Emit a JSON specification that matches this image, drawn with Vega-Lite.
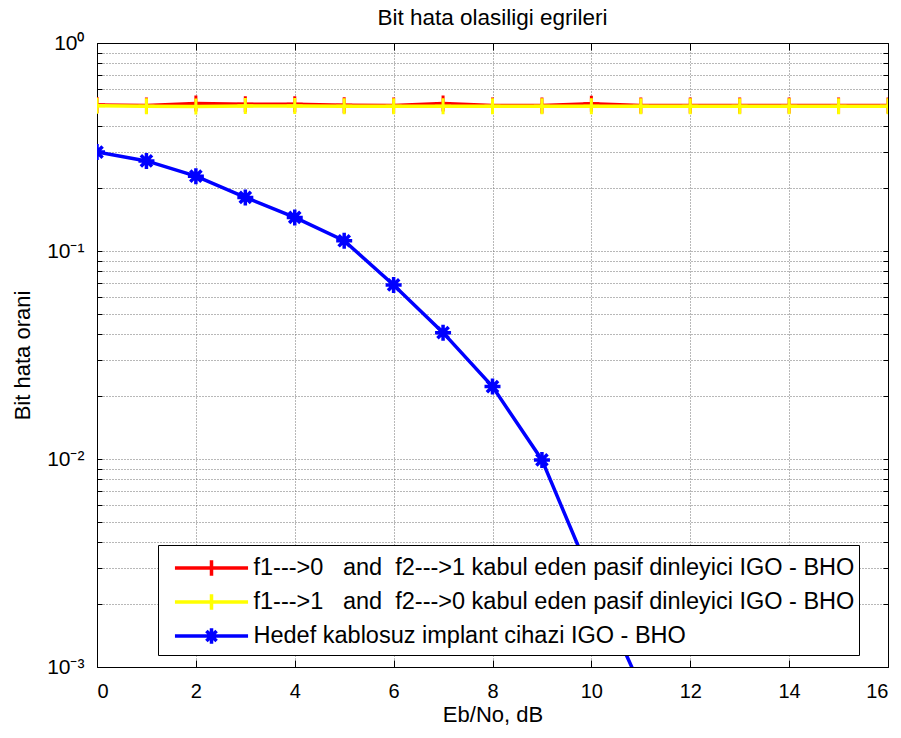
{
  "$schema": "https://vega.github.io/schema/vega-lite/v6.json",
  "width": 791,
  "height": 624,
  "autosize": {"type": "none"},
  "padding": {"left": 97, "top": 43, "right": 13, "bottom": 71},
  "background": "white",
  "config": {
    "view": {"stroke": null},
    "font": "Liberation Sans, Arial, sans-serif",
    "axis": {
      "labelFont": "Liberation Sans, Arial, sans-serif",
      "titleFont": "Liberation Sans, Arial, sans-serif",
      "labelColor": "black",
      "titleColor": "black",
      "domainColor": "black",
      "domainWidth": 1,
      "tickColor": "black",
      "titleFontWeight": "normal",
      "gridColor": "#707070",
      "gridDash": [1, 2],
      "gridWidth": 1,
      "gridOpacity": 1,
      "labelOverlap": false
    }
  },
  "title": {
    "text": "Bit hata olasiligi egrileri",
    "fontSize": 22.5,
    "fontWeight": "normal",
    "font": "Liberation Sans, Arial, sans-serif",
    "color": "black",
    "offset": 3
  },
  "datasets": {
    "ber": [
      {"x": 0, "y": 0.503, "s": "A"}, {"x": 1, "y": 0.5, "s": "A"}, {"x": 2, "y": 0.512, "s": "A"}, {"x": 3, "y": 0.508, "s": "A"},
      {"x": 4, "y": 0.508, "s": "A"}, {"x": 5, "y": 0.502, "s": "A"}, {"x": 6, "y": 0.5, "s": "A"}, {"x": 7, "y": 0.512, "s": "A"},
      {"x": 8, "y": 0.5, "s": "A"}, {"x": 9, "y": 0.501, "s": "A"}, {"x": 10, "y": 0.511, "s": "A"}, {"x": 11, "y": 0.5, "s": "A"},
      {"x": 12, "y": 0.5, "s": "A"}, {"x": 13, "y": 0.501, "s": "A"}, {"x": 14, "y": 0.5, "s": "A"}, {"x": 15, "y": 0.5, "s": "A"},
      {"x": 16, "y": 0.5, "s": "A"},
      {"x": 0, "y": 0.499, "s": "B"}, {"x": 1, "y": 0.497, "s": "B"}, {"x": 2, "y": 0.495, "s": "B"}, {"x": 3, "y": 0.498, "s": "B"},
      {"x": 4, "y": 0.498, "s": "B"}, {"x": 5, "y": 0.497, "s": "B"}, {"x": 6, "y": 0.497, "s": "B"}, {"x": 7, "y": 0.497, "s": "B"},
      {"x": 8, "y": 0.497, "s": "B"}, {"x": 9, "y": 0.497, "s": "B"}, {"x": 10, "y": 0.497, "s": "B"}, {"x": 11, "y": 0.497, "s": "B"},
      {"x": 12, "y": 0.497, "s": "B"}, {"x": 13, "y": 0.497, "s": "B"}, {"x": 14, "y": 0.497, "s": "B"}, {"x": 15, "y": 0.497, "s": "B"},
      {"x": 16, "y": 0.497, "s": "B"},
      {"x": 0, "y": 0.299, "s": "C"}, {"x": 1, "y": 0.271, "s": "C"}, {"x": 2, "y": 0.229, "s": "C"}, {"x": 3, "y": 0.181, "s": "C"},
      {"x": 4, "y": 0.145, "s": "C"}, {"x": 5, "y": 0.112, "s": "C"}, {"x": 6, "y": 0.0687, "s": "C"}, {"x": 7, "y": 0.0405, "s": "C"},
      {"x": 8, "y": 0.0223, "s": "C"}, {"x": 9, "y": 0.0099, "s": "C"}, {"x": 10, "y": 0.0027, "s": "C"}, {"x": 11, "y": 0.0008, "s": "C"}
    ],
    "names": [
      {"s": "A", "series": "f1--->0\u00a0\u00a0 and\u00a0 f2--->1 kabul eden pasif dinleyici IGO - BHO"},
      {"s": "B", "series": "f1--->1\u00a0\u00a0 and\u00a0 f2--->0 kabul eden pasif dinleyici IGO - BHO"},
      {"s": "C", "series": "Hedef kablosuz implant cihazi IGO - BHO"}
    ]
  },
  "layer": [
    {
      "data": {"name": "ber"},
      "transform": [
        {"lookup": "s", "from": {"data": {"name": "names"}, "key": "s", "fields": ["series"]}}
      ],
      "encoding": {
        "x": {
          "field": "x", "type": "quantitative",
          "scale": {"domain": [0, 16], "nice": false, "zero": false},
          "axis": {
            "title": "Eb/No, dB",
            "titleFontSize": 22,
            "titleY": 54,
            "titleBaseline": "alphabetic",
            "values": [0, 2, 4, 6, 8, 10, 12, 14, 16],
            "labelFontSize": 20,
            "tickSize": -7,
            "labelPadding": 21,
            "grid": true
          }
        },
        "y": {
          "field": "y", "type": "quantitative",
          "scale": {"type": "log", "domain": [0.001, 1], "nice": false},
          "axis": {
            "title": "Bit hata orani",
            "titleFontSize": 22,
            "titleX": -75,
            "titleY": 312,
            "titleBaseline": "middle",
            "values": [0.001, 0.002, 0.003, 0.004, 0.005, 0.006, 0.007, 0.008, 0.009,
                       0.01, 0.02, 0.03, 0.04, 0.05, 0.06, 0.07, 0.08, 0.09,
                       0.1, 0.2, 0.3, 0.4, 0.5, 0.6, 0.7, 0.8, 0.9, 1],
            "labelExpr": "datum.value == 1 ? '10⁰' : datum.value == 0.1 ? '10⁻¹' : datum.value == 0.01 ? '10⁻²' : datum.value == 0.001 ? '10⁻³' : ''",
            "labelFontSize": 21,
            "tickSize": -5,
            "labelPadding": 18,
            "grid": true
          }
        }
      },
      "layer": [
        {
          "transform": [{"filter": "datum.s == 'A'"}],
          "mark": {"type": "line", "strokeWidth": 3.5, "clip": true},
          "encoding": {
            "color": {
              "field": "series", "type": "nominal",
              "scale": {
                "domain": [
                  "f1--->0\u00a0\u00a0 and\u00a0 f2--->1 kabul eden pasif dinleyici IGO - BHO",
                  "f1--->1\u00a0\u00a0 and\u00a0 f2--->0 kabul eden pasif dinleyici IGO - BHO",
                  "Hedef kablosuz implant cihazi IGO - BHO"
                ],
                "range": ["#ff0000", "#ffff00", "#0000ff"]
              },
              "legend": {
                "title": null,
                "orient": "none",
                "legendX": 61,
                "legendY": 502,
                "direction": "vertical",
                "padding": 4,
                "strokeColor": "black",
                "fillColor": "white",
                "cornerRadius": 0,
                "labelFont": "Liberation Sans, Arial, sans-serif",
                "labelFontSize": 23.5,
                "labelColor": "black",
                "labelLimit": 0,
                "symbolSize": 1156,
                "symbolStrokeWidth": 3.5,
                "symbolOffset": 30.5,
                "labelOffset": 23,
                "rowPadding": 0,
                "encode": {
                  "symbols": {
                    "update": {
                      "shape": {"signal": "indexof(datum.label, 'Hedef') == 0 ? 'M-2.15,0H2.15M0,-0.45V0.45M-0.3,-0.3L0.3,0.3M-0.3,0.3L0.3,-0.3' : 'M-2.15,0H2.15M0,-0.45V0.45'"},
                      "fill": {"value": "transparent"},
                      "strokeWidth": {"value": 3.5}
                    }
                  }
                }
              }
            }
          }
        },
        {
          "transform": [{"filter": "datum.s == 'A'"}],
          "mark": {"type": "point", "filled": false, "strokeWidth": 3, "size": 256, "opacity": 1, "clip": true, "shape": "M0,-1V1M-1,0H1", "color": "#ff0000"}
        },
        {
          "transform": [{"filter": "datum.s == 'B'"}],
          "mark": {"type": "line", "strokeWidth": 3.5, "clip": true},
          "encoding": {
            "color": {"field": "series", "type": "nominal"}
          }
        },
        {
          "transform": [{"filter": "datum.s == 'B'"}],
          "mark": {"type": "point", "filled": false, "strokeWidth": 3, "size": 256, "opacity": 1, "clip": true, "shape": "M0,-1V1M-1,0H1", "color": "#ffff00"}
        },
        {
          "transform": [{"filter": "datum.s == 'C'"}],
          "mark": {"type": "line", "strokeWidth": 3.5, "clip": true},
          "encoding": {
            "color": {"field": "series", "type": "nominal"}
          }
        },
        {
          "transform": [{"filter": "datum.s == 'C'"}],
          "mark": {"type": "point", "filled": false, "strokeWidth": 3.5, "size": 256, "opacity": 1, "clip": true, "shape": "M0,-1V1M-1,0H1M-0.7,-0.7L0.7,0.7M-0.7,0.7L0.7,-0.7", "color": "#0000ff"}
        }
      ]
    },
    {
      "data": {"name": "ber"},
      "mark": {"type": "point", "opacity": 0},
      "encoding": {
        "x": {
          "field": "x", "type": "quantitative",
          "scale": {"domain": [0, 16], "nice": false, "zero": false},
          "axis": {"orient": "top", "title": null, "labels": false, "grid": false, "tickSize": -7, "values": [0, 2, 4, 6, 8, 10, 12, 14, 16]}
        },
        "y": {
          "field": "y", "type": "quantitative",
          "scale": {"type": "log", "domain": [0.001, 1], "nice": false},
          "axis": {"orient": "right", "title": null, "labels": false, "grid": false, "tickSize": -5,
            "values": [0.001, 0.002, 0.003, 0.004, 0.005, 0.006, 0.007, 0.008, 0.009,
                       0.01, 0.02, 0.03, 0.04, 0.05, 0.06, 0.07, 0.08, 0.09,
                       0.1, 0.2, 0.3, 0.4, 0.5, 0.6, 0.7, 0.8, 0.9, 1]}
        }
      }
    }
  ],
  "resolve": {"scale": {"x": "independent", "y": "independent"}}
}
